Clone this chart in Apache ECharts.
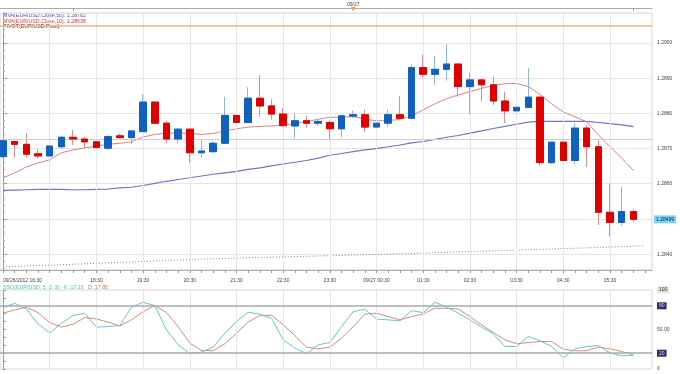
<!DOCTYPE html>
<html><head><meta charset="utf-8">
<script src="https://cdn.jsdelivr.net/npm/echarts@6/dist/echarts.min.js"></script>
<style>html,body{margin:0;padding:0;background:#fff}#c{width:680px;height:374px}</style>
</head><body><div id="c"></div>
<script>
// ---- data (15-minute EUR/USD candles) ----
const times = ['16:30','16:45','17:00','17:15','17:30','17:45','18:00','18:15','18:30','18:45','19:00','19:15','19:30','19:45','20:00','20:15','20:30','20:45','21:00','21:15','21:30','21:45','22:00','22:15','22:30','22:45','23:00','23:15','23:30','23:45','00:00','00:15','00:30','00:45','01:00','01:15','01:30','01:45','02:00','02:15','02:30','02:45','03:00','03:15','03:30','03:45','04:00','04:15','04:30','04:45','05:00','05:15','05:30','05:45','06:00'];
const open = [1.28677,1.28720,1.28712,1.28685,1.28679,1.28705,1.28732,1.28727,1.28719,1.28701,1.28736,1.28731,1.28748,1.28832,1.28772,1.28727,1.28755,1.28688,1.28691,1.28715,1.28794,1.28774,1.28843,1.28821,1.28798,1.28764,1.28779,1.28772,1.28774,1.28756,1.28792,1.28796,1.28761,1.28772,1.28796,1.28786,1.28930,1.28911,1.28925,1.28940,1.28876,1.28895,1.28881,1.28835,1.28807,1.28817,1.28846,1.28660,1.28718,1.28666,1.28758,1.28705,1.28519,1.28490,1.28521];
const close = [1.28722,1.28712,1.28684,1.28679,1.28707,1.28732,1.28727,1.28719,1.28703,1.28734,1.28731,1.28750,1.28832,1.28772,1.28727,1.28755,1.28688,1.28693,1.28715,1.28794,1.28774,1.28843,1.28821,1.28798,1.28765,1.28779,1.28772,1.28777,1.28756,1.28793,1.28796,1.28761,1.28772,1.28796,1.28786,1.28930,1.28911,1.28925,1.28940,1.28876,1.28895,1.28881,1.28835,1.28807,1.28817,1.28846,1.28660,1.28718,1.28666,1.28758,1.28705,1.28519,1.28490,1.28521,1.28499];
const low = [1.28673,1.28674,1.28674,1.28671,1.28676,1.28699,1.28710,1.28704,1.28696,1.28696,1.28729,1.28713,1.28748,1.28769,1.28715,1.28717,1.28658,1.28675,1.28688,1.28715,1.28753,1.28772,1.28791,1.28783,1.28762,1.28729,1.28758,1.28764,1.28725,1.28732,1.28786,1.28746,1.28745,1.28762,1.28786,1.28786,1.28901,1.28881,1.28893,1.28847,1.28798,1.28833,1.28824,1.28772,1.28739,1.28817,1.28651,1.28656,1.28635,1.28654,1.28647,1.28483,1.28450,1.28480,1.28492];
const high = [1.28725,1.28721,1.28744,1.28698,1.28710,1.28736,1.28753,1.28732,1.28722,1.28738,1.28742,1.28753,1.28854,1.28834,1.28778,1.28759,1.28758,1.28727,1.28720,1.28847,1.28822,1.28874,1.28909,1.28840,1.28815,1.28798,1.28793,1.28785,1.28778,1.28796,1.28808,1.28810,1.28775,1.28810,1.28849,1.28938,1.28966,1.28963,1.28996,1.28942,1.28916,1.28895,1.28904,1.28862,1.28826,1.28928,1.28846,1.28720,1.28725,1.28772,1.28767,1.28725,1.28600,1.28592,1.28528];
const ma10 = [1.28617,1.28631,1.28648,1.28659,1.28668,1.28688,1.28696,1.28702,1.28707,1.28712,1.28715,1.28719,1.28733,1.28740,1.28744,1.28744,1.28743,1.28740,1.28743,1.28750,1.28756,1.28761,1.28763,1.28764,1.28766,1.28771,1.28777,1.28783,1.28789,1.28789,1.28791,1.28783,1.28779,1.28779,1.28783,1.28793,1.28810,1.28827,1.28842,1.28852,1.28862,1.28871,1.28879,1.28884,1.28885,1.28876,1.28854,1.28827,1.28804,1.28790,1.28776,1.28739,1.28705,1.28673,1.28638];
const ma50 = [1.28581,1.28582,1.28583,1.28584,1.28584,1.28584,1.28583,1.28583,1.28584,1.28585,1.28588,1.28590,1.28595,1.28601,1.28607,1.28612,1.28617,1.28622,1.28627,1.28631,1.28635,1.28641,1.28645,1.28651,1.28656,1.28661,1.28666,1.28673,1.28681,1.28686,1.28691,1.28696,1.28700,1.28705,1.28710,1.28716,1.28720,1.28726,1.28732,1.28737,1.28744,1.28750,1.28757,1.28763,1.28769,1.28775,1.28777,1.28777,1.28777,1.28777,1.28777,1.28774,1.28771,1.28767,1.28762];
const dottedIdx = [0,8,17,34,51,55];
const dottedVal = [1.28364,1.28374,1.28386,1.28401,1.28419,1.28424];
const pivotLevel = 1.28727;
const upperLevel = 1.29048;
const stochK = [77.7,83.2,76.0,57.1,45.4,58.0,67.6,70.6,53.0,53.7,55.0,78.2,84.5,80.2,49.6,30.6,19.3,21.4,27.7,45.4,60.0,71.9,69.4,64.3,36.9,26.5,19.3,30.6,33.5,53.7,72.6,75.7,63.1,62.2,60.9,73.9,71.4,84.5,78.2,70.6,62.2,53.0,44.5,28.5,28.5,41.1,35.7,28.5,13.9,25.6,28.5,29.8,20.2,16.8,17.16];
const stochD = [70.6,74.8,78.2,71.4,58.8,53.0,56.7,65.1,63.4,59.3,54.6,62.2,72.6,80.2,71.4,53.7,32.8,23.5,23.1,31.9,45.4,59.3,67.6,68.1,55.9,42.4,27.7,25.6,27.7,39.1,53.7,69.4,70.6,66.3,62.2,66.3,69.7,76.9,76.9,76.0,66.3,55.9,46.2,36.9,31.9,33.5,34.8,34.8,25.2,23.1,23.1,27.7,25.6,22.2,17.85];
// ---- ticks / labels ----
const hourGridIdx = [4,8,12,16,20,24,28,32,36,40,44,48,52];
const labelIdx = [0,8,12,16,20,24,28,32,36,40,44,48,52];
const dateLabel = {0:'09/26/2012 16:30', 32:'09/27 00:30'};
const topTickIdx = [6,30,54];
const topLabel = {30:'09/27'};
const oscLabelVals = [0,20,50,80,100];
const oscTickVals = [0,10,20,30,40,50,60,70,80,90,100];
const oscBands = [20,80];
const legendMA50 = 'MVA(EUR/USD.Close,50): 1.28762';
const legendMA10 = 'MVA(EUR/USD.Close,10): 1.28638';
const legendPivot = 'PIVOT(EUR/USD,Pivot)';
const legendK = 'SSO(EUR/USD, 5, 3, 3) - K: 17.16';
const legendD = 'D: 17.85';

const FONT = 'Liberation Sans';
const candleIdx = times.map((t,i)=>i);
const xMin = -0.26, xMax = 55.6;
const candleData = open.map((o,i)=>[i,o,close[i],low[i],high[i]]);
const bodyData = open.map((o,i)=>[i,o,close[i],Math.min(o,close[i]),Math.max(o,close[i])]);
const pair = (arr)=>arr.map((v,i)=>[i,v]);
const vGrid = hourGridIdx.map(v=>({xAxis:v}));
const lastClose = close[close.length-1];

const chart = echarts.init(document.getElementById('c'));
chart.setOption({
  animation:false,
  backgroundColor:'#fff',
  textStyle:{fontFamily:FONT},
  grid:[
    {left:0, top:13, right:28, bottom:104, show:true, borderColor:'#d4d4d4', borderWidth:1},
    {left:0, top:290, right:28, height:79, show:true, borderColor:'#d8d8d8', borderWidth:1}
  ],
  xAxis:[
    {type:'value', gridIndex:0, min:xMin, max:xMax, position:'bottom',
     axisLine:{show:true, lineStyle:{color:'#aaa'}},
     axisTick:{show:true, customValues:candleIdx.concat([55]), length:3, lineStyle:{color:'#999'}},
     axisLabel:{show:true, customValues:labelIdx, fontSize:5, color:'#444', margin:8, fontFamily:FONT,
       alignMinLabel:'left',
       formatter:v=>dateLabel[v] || times[v]},
     splitLine:{show:false}},
    {type:'value', gridIndex:0, min:xMin, max:xMax, position:'top', offset:5,
     axisLine:{show:true, lineStyle:{color:'#aaa'}},
     axisTick:{show:true, customValues:topTickIdx, length:3, inside:true, lineStyle:{color:'#999'}},
     axisLabel:{show:true, customValues:[30], fontSize:5, color:'#444', margin:1, fontFamily:FONT,
       formatter:v=>topLabel[v] || ''},
     splitLine:{show:false}},
    {type:'value', gridIndex:1, min:xMin, max:xMax, position:'bottom',
     axisLine:{show:false}, axisTick:{show:false}, axisLabel:{show:false}, splitLine:{show:false}}
  ],
  yAxis:[
    {type:'value', gridIndex:0, position:'right', min:1.28355, max:1.29085, splitNumber:7, scale:true,
     axisLine:{show:true, lineStyle:{color:'#999'}},
     axisTick:{show:true, length:4, lineStyle:{color:'#999'}},
     minorTick:{show:true, splitNumber:5, length:2, lineStyle:{color:'#aaa'}},
     axisLabel:{fontSize:5, color:'#444', margin:5, showMinLabel:false, showMaxLabel:false, fontFamily:FONT,
       formatter:v=>v.toFixed(4)},
     splitLine:{show:true, lineStyle:{color:'#e6e6e6'}}},
    {type:'value', gridIndex:1, position:'right', min:0, max:100,
     axisLine:{show:true, lineStyle:{color:'#999'}},
     axisTick:{show:true, customValues:oscTickVals, length:3, lineStyle:{color:'#999'}},
     axisLabel:{customValues:oscLabelVals, fontSize:5, color:'#444', margin:5, fontFamily:FONT,
       formatter:v=> v===80||v===20 ? '{d|'+v+'}' : v===50 ? '50.00' : v===100 ? '{l|100}' : String(v),
       rich:{d:{backgroundColor:'#2e2e5e', color:'#d8d8ff', fontSize:5, padding:[1,2]},
             l:{backgroundColor:'#e4e4e4', color:'#333', fontSize:5, padding:[1,2]}}},
     splitLine:{show:false}}
  ],
  graphic:[
    {type:'text', left:3, top:13, style:{text:legendMA50, fill:'#4a4ab8', font:'5.3px "'+FONT+'"'}},
    {type:'text', left:3, top:18.6, style:{text:legendMA10, fill:'#e03a3a', font:'5.3px "'+FONT+'"'}},
    {type:'text', left:3, top:24, style:{text:legendPivot, fill:'#333', font:'5.3px "'+FONT+'"'}},
    {type:'text', left:3, top:285.5, style:{text:legendK, fill:'#4cbcbc', font:'5.3px "'+FONT+'"'}},
    {type:'text', left:88, top:285.5, style:{text:legendD, fill:'#c8805c', font:'5.3px "'+FONT+'"'}}
  ],
  series:[
    {type:'line', xAxisIndex:0, yAxisIndex:0, data:dottedIdx.map((x,i)=>[x,dottedVal[i]]), showSymbol:false,
     lineStyle:{color:'#888', width:1, type:[1,2]}, z:2,
     markLine:{silent:true, symbol:'none', precision:6, label:{show:false},
       data:vGrid, lineStyle:{color:'#e6e6e6', type:'solid', width:1}}},
    {type:'line', xAxisIndex:0, yAxisIndex:0, data:pair(ma50), showSymbol:false, smooth:false,
     lineStyle:{color:'#7272c8', width:1.2}, z:3,
     markLine:{silent:true, symbol:'none', precision:6, label:{show:false},
       data:[{yAxis:upperLevel, lineStyle:{color:'#f2b488', width:1.5, type:'solid'}},
             {yAxis:pivotLevel, lineStyle:{color:'#cfcfcf', width:1, type:'solid'}}]},
     markPoint:{silent:true, symbol:'triangle', symbolRotate:180, symbolSize:[5,4], symbolOffset:[0,-4],
       itemStyle:{color:'#f0a048'}, label:{show:false},
       data:[{coord:[30, 1.29085]}]}},
    {type:'line', xAxisIndex:0, yAxisIndex:0, data:pair(ma10), showSymbol:false,
     lineStyle:{color:'#e08080', width:1}, z:3},
    {type:'candlestick', xAxisIndex:0, yAxisIndex:0, data:candleData, barWidth:7, z:4,
     itemStyle:{color:'#1060c0', color0:'#e00000', borderColor:'#90b8d6', borderColor0:'#d89090', borderWidth:1}},
    {type:'candlestick', xAxisIndex:0, yAxisIndex:0, data:bodyData, barWidth:7, z:5,
     itemStyle:{color:'#1060c0', color0:'#e00000', borderColor:'#1060c0', borderColor0:'#e00000', borderWidth:1},
     markLine:{silent:true, symbol:'none', precision:6,
       lineStyle:{color:'rgba(255,255,255,0)', width:0.01, type:'solid'},
       data:[{yAxis:lastClose}],
       label:{show:true, position:'end', distance:2, formatter:lastClose.toFixed(5),
         backgroundColor:'#7fd4f6', color:'#023', fontSize:5, padding:[1.5,2], fontFamily:FONT, opacity:1}}},
    {type:'line', xAxisIndex:2, yAxisIndex:1, data:pair(stochD), showSymbol:false,
     lineStyle:{color:'#d09070', width:1}, z:3,
     markLine:{silent:true, symbol:'none', precision:6, label:{show:false},
       data:vGrid.concat(oscBands.map(v=>({yAxis:v, lineStyle:{color:'#a8a8a8', width:1.6, type:'solid'}}))),
       lineStyle:{color:'#e6e6e6', type:'solid', width:1}}},
    {type:'line', xAxisIndex:2, yAxisIndex:1, data:pair(stochK), showSymbol:false,
     lineStyle:{color:'#62c8cc', width:1}, z:4}
  ]
});
</script></body></html>
